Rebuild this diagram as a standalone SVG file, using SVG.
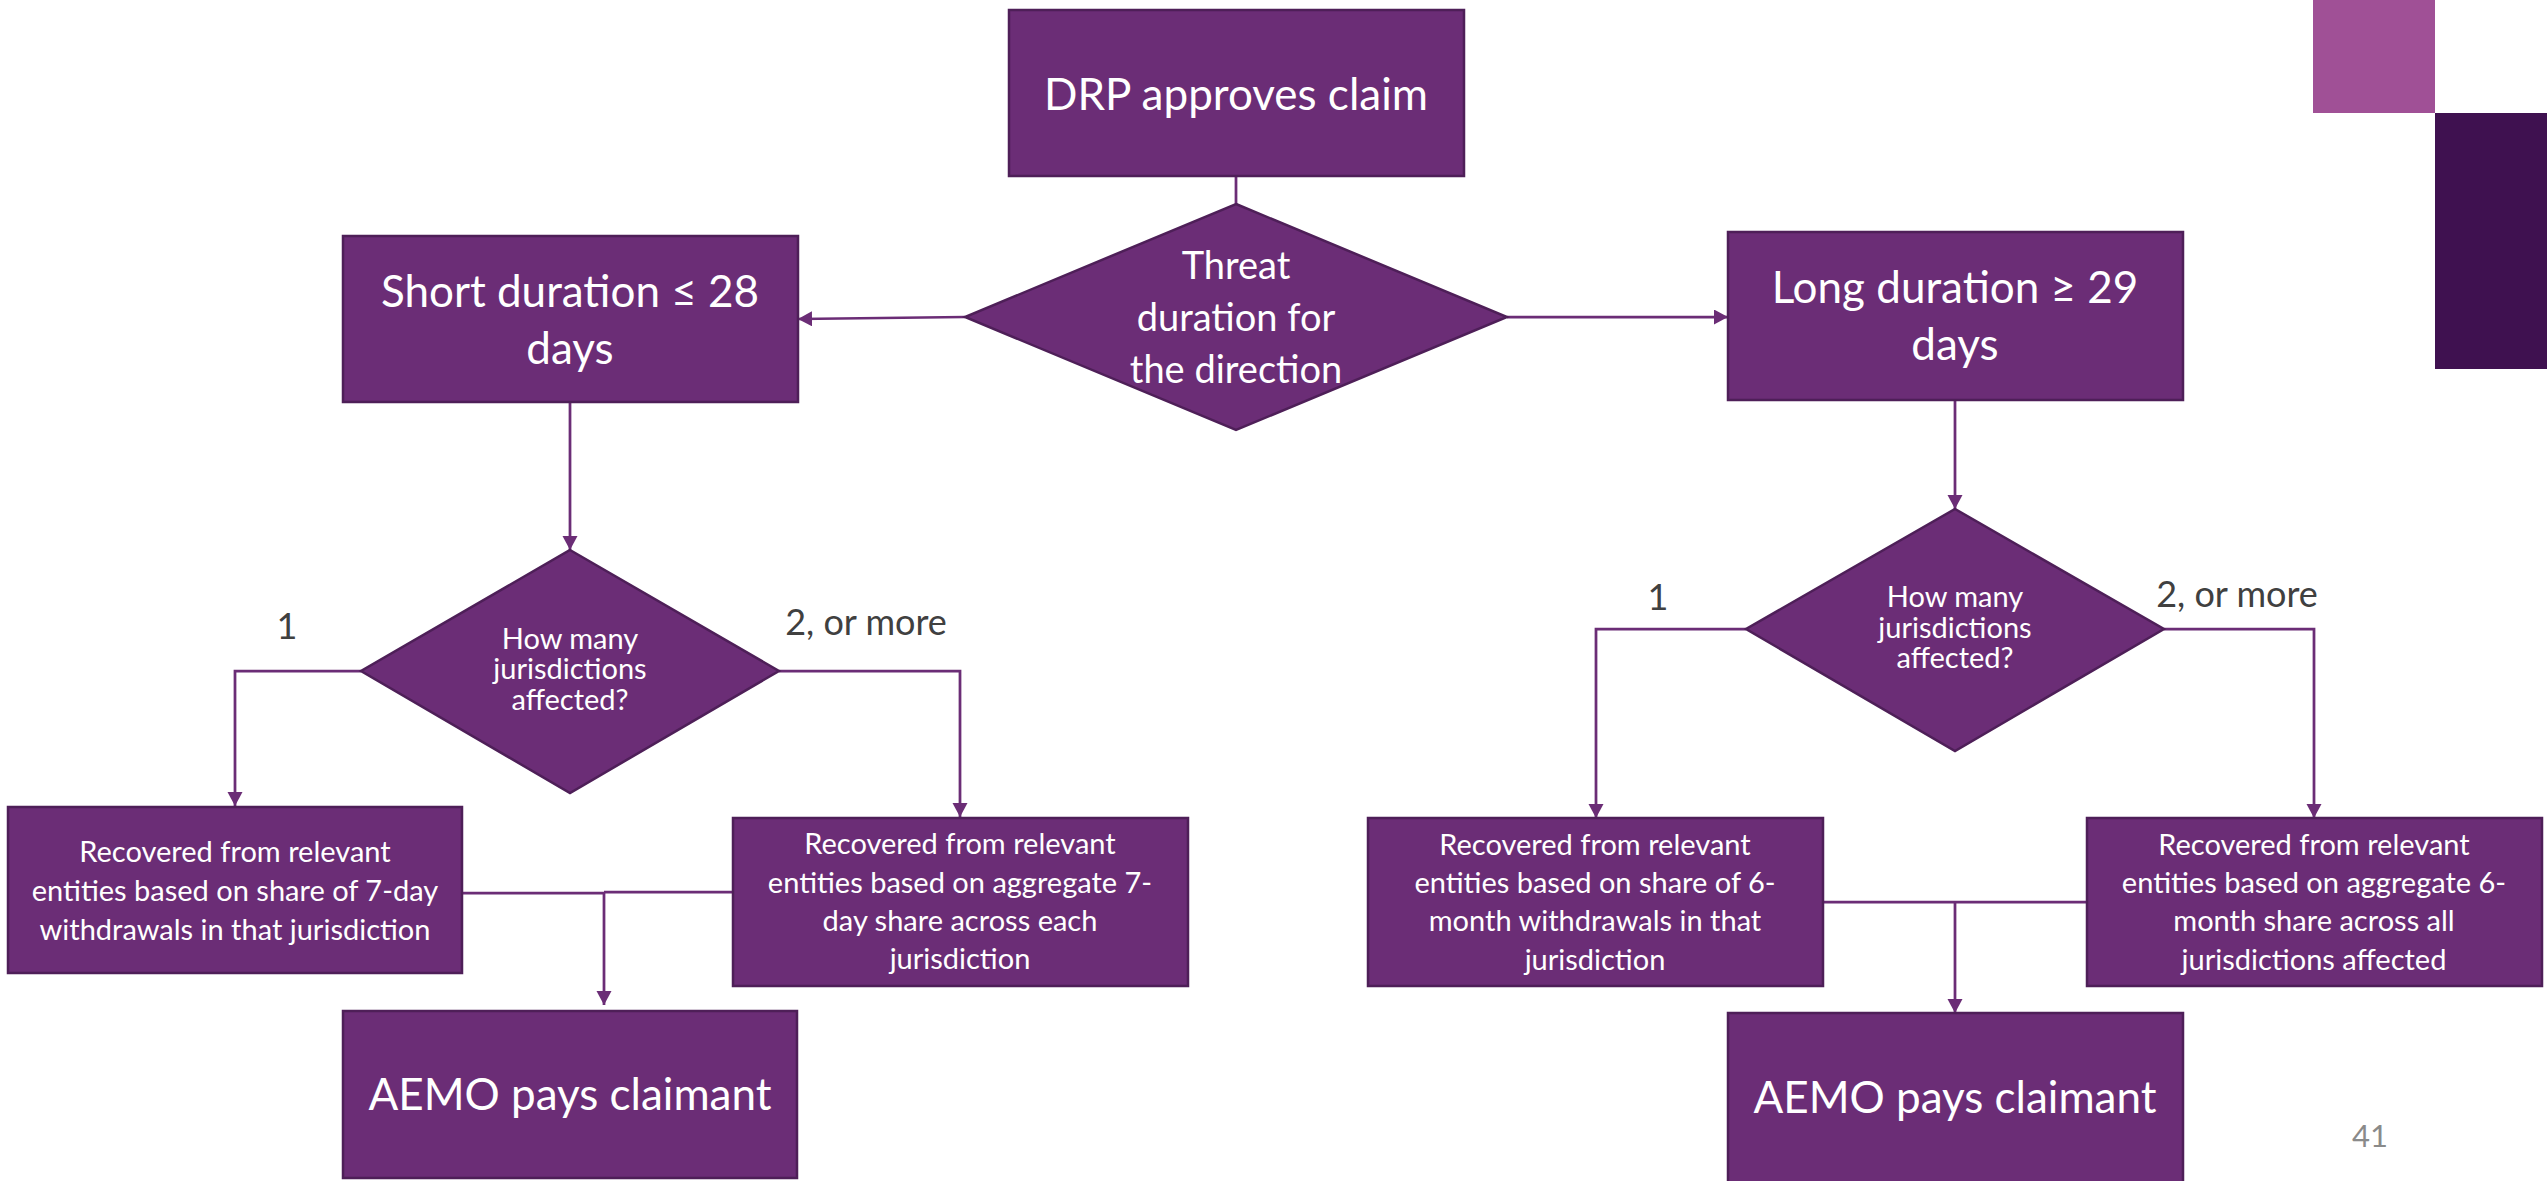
<svg xmlns="http://www.w3.org/2000/svg" width="2547" height="1181" viewBox="0 0 2547 1181">
  <style>
    .box { fill: #6B2D76; stroke: #4E1F58; stroke-width: 2.5; }
    .dia { fill: #6B2D76; stroke: #4E1F58; stroke-width: 2.5; }
    .t { font-family: Lato, "Open Sans", "Liberation Sans", sans-serif; fill: #FFFFFF; text-anchor: middle; }
    .big { font-size: 44px; }
    .mid { font-size: 38px; }
    .sm { font-size: 29px; }
    .lbl { font-family: Lato, "Open Sans", "Liberation Sans", sans-serif; fill: #404040; font-size: 36px; text-anchor: middle; }
    .conn { fill: none; stroke: #6B2D76; stroke-width: 2.75; }
    .arr { marker-end: url(#head); }
  </style>
  <defs>
    <marker id="head" markerUnits="userSpaceOnUse" markerWidth="15" markerHeight="16" refX="14" refY="7.5" orient="auto">
      <path d="M0,0 L14,7.5 L0,15 z" fill="#6B2D76"/>
    </marker>
  </defs>
  <rect width="2547" height="1181" fill="#FFFFFF"/>

  <!-- corner accent blocks -->
  <g id="accent">
    <rect x="2313" y="0" width="122" height="113" fill="#A05096"/>
    <rect x="2435" y="113" width="112" height="256" fill="#3F1150"/>
  </g>

  <!-- connectors -->
  <g id="connectors">
    <line class="conn" x1="1236" y1="176" x2="1236" y2="204"/>
    <line class="conn arr" x1="965" y1="317" x2="798" y2="319"/>
    <line class="conn arr" x1="1507" y1="317" x2="1728" y2="317"/>
    <!-- short branch -->
    <line class="conn arr" x1="570" y1="402" x2="570" y2="550"/>
    <polyline class="conn arr" points="361,671 235,671 235,806"/>
    <polyline class="conn arr" points="779,671 960,671 960,817"/>
    <line class="conn" x1="462" y1="893" x2="604" y2="893"/>
    <line class="conn" x1="604" y1="892" x2="733" y2="892"/>
    <line class="conn arr" x1="604" y1="892" x2="604" y2="1005"/>
    <!-- long branch -->
    <line class="conn arr" x1="1955" y1="400" x2="1955" y2="509"/>
    <polyline class="conn arr" points="1746,629 1596,629 1596,818"/>
    <polyline class="conn arr" points="2164,629 2314,629 2314,818"/>
    <line class="conn" x1="1823" y1="902" x2="2087" y2="902"/>
    <line class="conn arr" x1="1955" y1="902" x2="1955" y2="1013"/>
  </g>

  <!-- branch labels -->
  <g id="labels">
    <text class="lbl" x="287" y="639">1</text>
    <text class="lbl" x="866" y="635">2, or more</text>
    <text class="lbl" x="1658" y="610">1</text>
    <text class="lbl" x="2237" y="607">2, or more</text>
  </g>

  <g id="drp-approves">
    <rect class="box" x="1009" y="10" width="455" height="166"/>
    <text class="t big" x="1236" y="110">DRP approves claim</text>
  </g>

  <g id="threat-duration">
    <polygon class="dia" points="1236,204 1507,317 1236,430 965,317"/>
    <text class="t mid" x="1236" y="279">Threat</text>
    <text class="t mid" x="1236" y="331">duration for</text>
    <text class="t mid" x="1236" y="383">the direction</text>
  </g>

  <g id="short-duration">
    <rect class="box" x="343" y="236" width="455" height="166"/>
    <text class="t big" x="570" y="307">Short duration ≤ 28</text>
    <text class="t big" x="570" y="364">days</text>
  </g>

  <g id="long-duration">
    <rect class="box" x="1728" y="232" width="455" height="168"/>
    <text class="t big" x="1955" y="303">Long duration ≥ 29</text>
    <text class="t big" x="1955" y="360">days</text>
  </g>

  <g id="short-jurisdictions">
    <polygon class="dia" points="570,550 779,671 570,793 361,671"/>
    <text class="t sm" x="570" y="649">How many</text>
    <text class="t sm" x="570" y="679">jurisdictions</text>
    <text class="t sm" x="570" y="710">affected?</text>
  </g>

  <g id="long-jurisdictions">
    <polygon class="dia" points="1955,509 2164,629 1955,751 1746,629"/>
    <text class="t sm" x="1955" y="607">How many</text>
    <text class="t sm" x="1955" y="638">jurisdictions</text>
    <text class="t sm" x="1955" y="668">affected?</text>
  </g>

  <g id="short-single">
    <rect class="box" x="8" y="807" width="454" height="166"/>
    <text class="t sm" x="235" y="862">Recovered from relevant</text>
    <text class="t sm" x="235" y="901">entities based on share of 7-day</text>
    <text class="t sm" x="235" y="940">withdrawals in that jurisdiction</text>
  </g>

  <g id="short-multi">
    <rect class="box" x="733" y="818" width="455" height="168"/>
    <text class="t sm" x="960" y="854">Recovered from relevant</text>
    <text class="t sm" x="960" y="893">entities based on aggregate 7-</text>
    <text class="t sm" x="960" y="931">day share across each</text>
    <text class="t sm" x="960" y="969">jurisdiction</text>
  </g>

  <g id="long-single">
    <rect class="box" x="1368" y="818" width="455" height="168"/>
    <text class="t sm" x="1595" y="855">Recovered from relevant</text>
    <text class="t sm" x="1595" y="893">entities based on share of 6-</text>
    <text class="t sm" x="1595" y="931">month withdrawals in that</text>
    <text class="t sm" x="1595" y="970">jurisdiction</text>
  </g>

  <g id="long-multi">
    <rect class="box" x="2087" y="818" width="455" height="168"/>
    <text class="t sm" x="2314" y="855">Recovered from relevant</text>
    <text class="t sm" x="2314" y="893">entities based on aggregate 6-</text>
    <text class="t sm" x="2314" y="931">month share across all</text>
    <text class="t sm" x="2314" y="970">jurisdictions affected</text>
  </g>

  <g id="short-pays">
    <rect class="box" x="343" y="1011" width="454" height="167"/>
    <text class="t big" x="570" y="1110">AEMO pays claimant</text>
  </g>

  <g id="long-pays">
    <rect class="box" x="1728" y="1013" width="455" height="172"/>
    <text class="t big" x="1955" y="1113">AEMO pays claimant</text>
  </g>

  <text x="2370" y="1147" font-family="Lato, 'Open Sans', 'Liberation Sans', sans-serif" font-size="31" fill="#8A8A8A" text-anchor="middle">41</text>
</svg>
